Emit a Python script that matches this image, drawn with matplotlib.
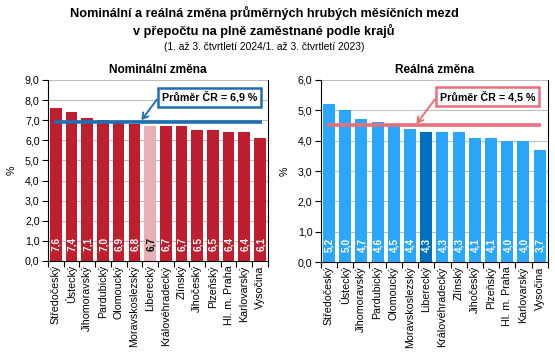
import matplotlib
matplotlib.use("Agg")
import matplotlib.pyplot as plt
from matplotlib.ticker import FixedLocator, FuncFormatter
import numpy as np

plt.rcParams['font.family'] = ['Liberation Sans', 'DejaVu Sans']

regions = ["Středočeský", "Ústecký", "Jihomoravský", "Pardubický", "Olomoucký",
           "Moravskoslezský", "Liberecký", "Královéhradecký", "Zlínský", "Jihočeský",
           "Plzeňský", "Hl. m. Praha", "Karlovarský", "Vysočina"]
nominal = [7.6, 7.4, 7.1, 7.0, 6.9, 6.8, 6.7, 6.7, 6.7, 6.5, 6.5, 6.4, 6.4, 6.1]
real = [5.2, 5.0, 4.7, 4.6, 4.5, 4.4, 4.3, 4.3, 4.3, 4.1, 4.1, 4.0, 4.0, 3.7]
avg_nominal = 6.9
avg_real = 4.5
highlight = "Liberecký"

title_line1 = "Nominální a reálná změna průměrných hrubých měsíčních mezd"
title_line2 = "v přepočtu na plně zaměstnané podle krajů"
subtitle = "(1. až 3. čtvrtletí 2024/1. až 3. čtvrtletí 2023)"

W, H = 555, 357
fig = plt.figure(figsize=(W / 100, H / 100), dpi=100)
cx = 264 / W
fig.text(cx, 1 - 13 / H, title_line1, ha='center', va='center', fontsize=9.2, fontweight='bold')
fig.text(cx, 1 - 31 / H, title_line2, ha='center', va='center', fontsize=9.2, fontweight='bold')
fig.text(cx, 1 - 47.5 / H, subtitle, ha='center', va='center', fontsize=7.35)

fmt = FuncFormatter(lambda v, p: f"{v:.1f}".replace('.', ','))


def panel(rect, values, avg, ymax, color, hcolor, lcolor, label_hcolor, title,
          box_xy, arrow_xy):
    ax = fig.add_axes(rect)
    x = np.arange(len(values))
    cols = [hcolor if r == highlight else color for r in regions]
    ax.bar(x, values, width=0.74, color=cols, zorder=2)
    ax.set_xlim(-0.5, len(values) - 0.5)
    ax.set_ylim(0, ymax)
    ax.yaxis.set_major_locator(FixedLocator(np.arange(0, ymax + 0.01, 1.0)))
    ax.yaxis.set_major_formatter(fmt)
    ax.grid(axis='y', color='#bfbfbf', linewidth=0.8, zorder=0)
    ax.set_axisbelow(True)
    ax.set_xticks(x)
    ax.set_xticklabels(regions, rotation=90, fontsize=7.7)
    ax.tick_params(axis='x', length=0, pad=3)
    ax.set_xticks(np.arange(-0.5, len(values), 1.0), minor=True)
    ax.tick_params(axis='x', which='minor', length=4, width=0.8, direction='out')
    ax.tick_params(axis='y', labelsize=7.7, length=4, width=0.8, pad=2)
    ax.spines['top'].set_visible(False)
    for s in ['left', 'bottom', 'right']:
        ax.spines[s].set_linewidth(0.8)
        ax.spines[s].set_color('black')
    ax.set_ylabel('%', fontsize=7.7, labelpad=6)
    ax.set_title(title, fontsize=8.6, fontweight='bold', pad=5)
    for xi, v, r in zip(x, values, regions):
        tc = label_hcolor if r == highlight else 'white'
        ax.annotate(f"{v:.1f}".replace('.', ','), (xi, 0), xytext=(0.5, 7),
                    textcoords='offset points', rotation=90, ha='center', va='bottom',
                    fontsize=7.2, fontweight='bold', color=tc, zorder=3)
    ax.plot([-0.1, len(values) - 0.9], [avg, avg], color=lcolor, linewidth=2.6,
            zorder=4, solid_capstyle='butt')
    ax.annotate(f"Průměr ČR = {str(avg).replace('.', ',')} %", xy=arrow_xy,
                xytext=box_xy, textcoords='data', fontsize=7.7, fontweight='bold',
                ha='left', va='center', zorder=5,
                bbox=dict(boxstyle='square,pad=0.35', fc='white', ec=lcolor, lw=1.8),
                arrowprops=dict(arrowstyle='->,head_length=0.5,head_width=0.3',
                                color=lcolor, lw=1.4,
                                shrinkA=0, shrinkB=0, relpos=(0.0, 0.85)))
    return ax


panel([0.0865, 0.269, 0.396, 0.507], nominal, avg_nominal, 9.0,
      '#be1e2d', '#e6b0b5', '#1f6fb4', 'black', 'Nominální změna',
      (6.75, 8.15), (5.45, 7.0))
panel([0.578, 0.266, 0.409, 0.51], real, avg_real, 6.0,
      '#2aa7fb', '#0070c0', '#e8707a', 'white', 'Reálná změna',
      (6.85, 5.45), (5.4, 4.55))

fig.savefig('out.png', dpi=100)
